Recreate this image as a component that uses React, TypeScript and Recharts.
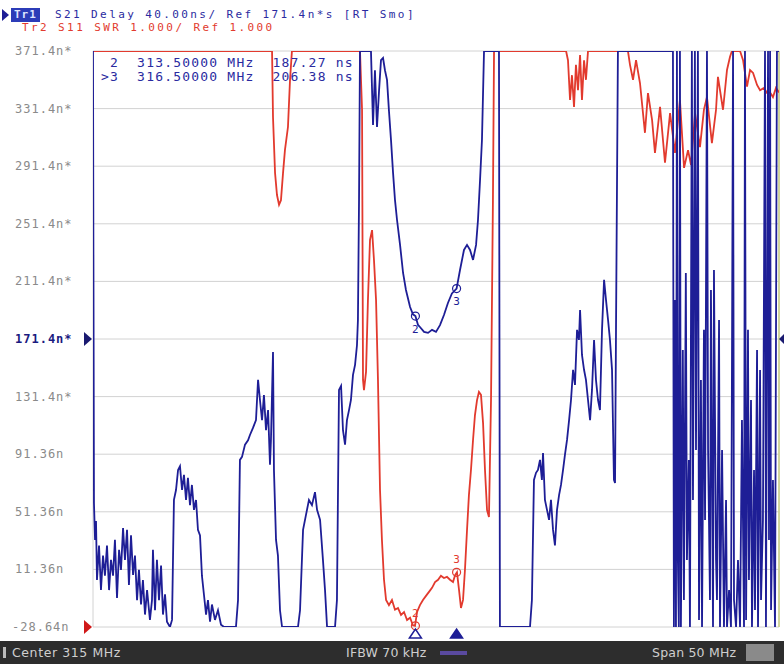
import React from 'react';
import { LineChart, Line, XAxis, YAxis, CartesianGrid, ReferenceDot, ReferenceLine } from 'recharts';

// frequency axis (MHz): center 315, span 50
const freqTicks = [290, 295, 300, 305, 310, 315, 320, 325, 330, 335, 340];

// Tr1 S21 delay axis (ns), 40 ns/div, ref 171.4 ns
const delayTicks = [-28.64, 11.36, 51.36, 91.36, 131.36, 171.36, 211.36, 251.36, 291.36, 331.36, 371.36];
const delayLabels = ['-28.64n', '11.36n', '51.36n', '91.36n', '131.4n*', '171.4n*', '211.4n*', '251.4n*', '291.4n*', '331.4n*', '371.4n*'];

// Tr1: S21 group delay trace
const s21Freq = [
  290.0, 290.07, 290.15, 290.22, 290.29, 290.44, 290.58, 290.73, 290.87, 291.02, 291.17, 291.31, 291.46, 291.6, 291.75,
  291.9, 292.04, 292.19, 292.33, 292.48, 292.62, 292.77, 292.92, 293.06, 293.21, 293.35, 293.5, 293.64, 293.79, 293.94,
  294.15, 294.3, 294.37, 294.52, 294.66, 294.81, 294.96, 295.1, 295.25, 295.39, 295.61, 295.76, 295.9, 296.05, 296.2,
  296.34, 296.49, 296.63, 296.78, 296.92, 297.07, 297.21, 297.36, 297.51, 297.65, 297.8, 297.94, 298.09, 298.24, 298.38,
  298.53, 298.67, 298.89, 299.11, 299.33, 299.55, 300.42, 300.57, 300.71, 300.86, 301.08, 301.3, 301.44, 301.66, 301.88,
  302.03, 302.17, 302.32, 302.46, 302.61, 302.76, 302.9, 302.97, 303.12, 303.19, 303.34, 303.48, 303.63, 303.78, 304.94,
  305.09, 305.31, 305.52, 305.74, 305.96, 306.18, 306.33, 306.55, 306.76, 306.91, 307.06, 307.64, 307.78, 307.93, 308.08,
  308.22, 308.37, 308.51, 308.66, 308.8, 308.95, 309.1, 309.24, 309.31, 309.39, 309.46, 310.26, 310.41, 310.55, 310.7,
  310.85, 310.99, 311.14, 311.28, 311.43, 311.57, 311.72, 311.87, 312.01, 312.16, 312.38, 312.6, 312.81, 313.11, 313.32,
  313.5, 313.69, 313.83, 314.13, 314.42, 314.71, 315.0, 315.29, 315.58, 315.87, 316.16, 316.5, 316.75, 317.04, 317.26,
  317.48, 317.7, 317.92, 318.06, 318.21, 318.35, 318.5, 319.59, 319.66, 321.85, 321.99, 322.14, 322.29, 322.43, 322.58,
  322.72, 322.8, 322.94, 323.09, 323.24, 323.38, 323.53, 323.67, 323.82, 323.97, 324.11, 324.26, 324.4, 324.55, 324.7,
  324.84, 324.99, 325.13, 325.28, 325.42, 325.5, 325.64, 325.79, 325.93, 326.08, 326.23, 326.37, 326.52, 326.66, 326.81,
  326.95, 327.1, 327.25, 327.39, 327.54, 327.68, 327.83, 327.97, 328.05, 328.12, 328.26, 332.2, 332.27, 332.34, 332.41,
  332.49, 332.56, 332.63, 332.7, 332.78, 332.85, 332.99, 333.07, 333.21, 333.29, 333.43, 333.51, 333.65, 333.73, 333.87,
  333.95, 334.09, 334.17, 334.31, 334.39, 334.53, 334.61, 334.75, 334.83, 334.97, 335.04, 335.19, 335.26, 335.41, 335.48,
  335.63, 335.7, 335.85, 335.99, 336.14, 336.21, 336.36, 336.5, 336.57, 336.65, 336.72, 336.87, 337.01, 337.16, 337.3,
  337.45, 337.52, 337.6, 337.74, 337.81, 337.96, 338.03, 338.18, 338.25, 338.4, 338.47, 338.62, 338.69, 338.83, 338.98,
  339.05, 339.2, 339.27, 339.35, 339.42, 339.56, 339.71, 339.85, 340.0,
];
const s21Delay = [
  371.36, 57.5, 31.8, 45, 4, 28, -2.9, 21, 7, 28, -3, 18, 7, 32, -8.5,
  25, 11, 40, 18, 38.8, 0.5, 35, 7.5, 21, -10, 11, -13, 4, -20, -3,
  -23.7, -10, 25, -17, 18, -10, 14, -20, -6, -25, -28.64, -23.7, 59.6, 66.5, 80.4,
  83, 66.5, 77, 59.6, 75, 56, 70, 52.7, 59.6, 38.8, 35, 7, -6.4, -20, -10,
  -25, -13, -23.7, -17, -27, -28.64, -28.64, -10, 87.4, 89.5, 98, 101, 104.7, 109.6, 115,
  143, 129, 115, 132.5, 108, 122, 84, 101, 162.4, 80, 31.8, 21, -17, -28.64, -28.64,
  -17, 38.8, 49, 59.6, 56, 65, 52.7, 45.8, 18, -2.9, -28.64, -28.64, -10, 136, 138.8,
  108, 98, 115, 122, 129, 146.4, 153.4, 167, 184.6, 268, 371.36, 371.36, 320, 358, 318.6,
  344, 365, 366.5, 358, 351.3, 330, 309.6, 286.7, 268, 254, 236.7, 217.2, 205.4, 193.6, 188.5,
  187.27, 181.1, 179.7, 176.3, 175.6, 177.7, 176.3, 181, 188, 196.4, 203, 206.38, 219.3, 233.2, 236.7,
  233.2, 226.3, 236.7, 254, 281.8, 309.6, 371.36, 371.36, -28.64, -28.64, -10, 73.5, 78.4, 80.4, 87.4,
  73.5, 92.2, 59.6, 52.7, 45.8, 59.6, 38.8, 28, 52.7, 63, 70, 80.4, 91, 101.3, 115,
  129, 150, 139.5, 177.7, 170.7, 191.5, 160.3, 150, 143, 129, 115, 136, 170.7, 143, 129,
  122, 177.7, 212.4, 198.5, 184.6, 170.7, 149.9, 73.5, 71.4, 177.7, 371.36, 371.36, 371.36, -28.64, 198.5,
  -28.64, 371.36, 17.9, -28.64, 371.36, -28.64, 163.8, -9.9, 217.2, 17.9, 87.4, -28.64, 371.36, 59.6, 371.36,
  94.3, 371.36, -23.7, 142.9, -28.64, 177.7, 45.7, 371.36, 94.3, -9.9, 205.4, -28.64, 219.3, 17.9, -9.9,
  184.6, -28.64, 94.3, -28.64, 59.6, -28.64, -2.9, -28.64, 147.8, 371.36, -9.9, -28.64, 17.9, -28.64, 115.1,
  -28.64, 371.36, -23.7, 177.7, 4, 129, -28.64, 80.4, -16.8, 163.8, -28.64, 149.9, -9.9, 45.7, 371.36,
  -28.64, 371.36, 31.8, 371.36, -16.8, 73.5, -28.64, 371.36, 371.36,
];

// Tr2: S11 SWR trace (1.000/div, ref 1.000)
const s11Freq = [
  290.0, 302.9, 303.05, 303.12, 303.27, 303.41, 303.56, 303.7, 303.85, 303.99, 304.21, 304.36, 304.5, 309.46, 309.61,
  309.68, 309.75, 309.9, 310.04, 310.19, 310.34, 310.48, 310.63, 310.77, 310.92, 311.06, 311.21, 311.36, 311.57, 311.79,
  312.01, 312.23, 312.45, 312.67, 312.89, 313.11, 313.32, 313.47, 313.62, 313.83, 314.05, 314.27, 314.49, 314.71, 314.93,
  315.15, 315.36, 315.58, 315.8, 316.02, 316.24, 316.39, 316.53, 316.68, 316.82, 316.97, 317.11, 317.26, 317.4, 317.55,
  317.7, 317.84, 317.99, 318.13, 318.28, 318.43, 318.57, 318.72, 318.86, 319.01, 319.15, 319.23, 324.48, 324.62, 324.77,
  324.91, 325.06, 325.2, 325.35, 325.5, 325.64, 325.79, 325.93, 326.08, 328.99, 329.14, 329.36, 329.58, 329.87, 330.23,
  330.45, 330.75, 330.96, 331.33, 331.69, 332.06, 332.42, 332.78, 333.08, 333.37, 333.59, 333.88, 334.24, 334.53, 334.75,
  335.11, 335.41, 335.55, 335.92, 336.21, 336.43, 336.57, 337.16, 337.38, 337.67, 337.89, 338.11, 338.4, 338.62, 338.91,
  339.13, 339.35, 339.56, 339.78, 340.0,
];
const s11Swr = [
  11, 11, 11, 9.85, 8.88, 8.5, 8.33, 8.41, 8.88, 9.28, 9.68, 10.5, 11, 11, 9.98,
  5.29, 5.11, 5.43, 6.68, 7.72, 7.89, 7.37, 6.68, 5.29, 3.38, 2.51, 1.82, 1.47, 1.38, 1.47,
  1.3, 1.33, 1.21, 1.26, 1.12, 1.16, 1.03, 1.02, 1.26, 1.38, 1.47, 1.54, 1.61, 1.68, 1.78,
  1.82, 1.89, 1.85, 1.87, 1.82, 1.78, 1.9, 1.95, 1.64, 1.33, 1.47, 1.99, 2.68, 3.29, 3.73,
  4.25, 4.68, 4.94, 5.08, 5.03, 4.54, 3.73, 3.03, 2.91, 4.94, 8.41, 11, 11, 10.84, 10.15,
  10.58, 10.03, 10.76, 10.32, 10.93, 10.15, 10.84, 10.5, 11, 11, 10.76, 10.5, 10.84, 10.44, 9.58,
  10.27, 9.8, 9.23, 10.03, 9.06, 9.92, 9.23, 10.15, 8.97, 9.28, 9.02, 9.92, 9.33, 9.98, 10.2,
  9.4, 9.98, 10.55, 9.98, 10.67, 10.9, 11, 11, 10.84, 10.38, 10.67, 10.62, 10.41, 10.32, 10.36,
  10.27, 10.28, 10.2, 10.36, 10.28,
];

// markers 2 and 3
const markerFreq = [313.5, 316.5];
const markerDelay = [187.27, 206.38];
const markerSwr = [1.02, 1.95];

const s21Data = s21Freq.map((f, i) => ({ f, v: s21Delay[i] }));
const s11Data = s11Freq.map((f, i) => ({ f, v: s11Swr[i] }));

const MONO = '"DejaVu Sans Mono", monospace';
const NAVY = '#1e1e96';
const RED = '#e23a2e';

const DelayTick = (props: any) => {
  const { y, payload } = props;
  const i = delayTicks.findIndex((t) => Math.abs(t - payload.value) < 0.01);
  const isRef = i === 5;
  const isBottom = i === 0;
  return (
    <g>
      <text
        x={isBottom ? 12 : 15}
        y={y}
        dy={4}
        fontFamily={MONO}
        fontSize={12}
        letterSpacing={1}
        fontWeight={isRef ? 'bold' : 'normal'}
        fill={isRef ? '#1a1a80' : '#8a8a8a'}
      >
        {delayLabels[i]}
      </text>
      {isRef && <path d={`M84,${y - 7} L92,${y} L84,${y + 7} Z`} fill="#1a1a70" />}
      {isBottom && <path d={`M84,${y - 7} L92,${y} L84,${y + 7} Z`} fill="#d01818" />}
    </g>
  );
};

const markerTriangle = (filled: boolean) => (p: any) => (
  <path
    d={`M${p.cx - 6},${p.cy + 11} L${p.cx},${p.cy + 2} L${p.cx + 6},${p.cy + 11} Z`}
    fill={filled ? NAVY : 'none'}
    stroke={NAVY}
    strokeWidth={1.5}
  />
);

const rightRefMarker = (p: any) => (
  <path d={`M${p.cx + 6},${p.cy - 6} L${p.cx},${p.cy} L${p.cx + 6},${p.cy + 6} Z`} fill="#1a1a70" />
);

const textStyle: React.CSSProperties = {
  position: 'absolute',
  fontFamily: MONO,
  fontSize: 13,
  letterSpacing: 1.2,
  whiteSpace: 'pre',
  lineHeight: '12px',
};

const headerStyle: React.CSSProperties = {
  ...textStyle,
  fontSize: 11,
  letterSpacing: 2.4,
  lineHeight: '12px',
};

export default function App() {
  return (
    <div style={{ position: 'absolute', left: 0, top: 0, width: 784, height: 664, background: '#fff', overflow: 'hidden' }}>
      <LineChart width={784} height={664} margin={{ top: 51, right: 5, bottom: 37, left: 0 }}>
        <CartesianGrid yAxisId="delay" stroke="#d2d2d2" strokeWidth={1} />
        <XAxis
          dataKey="f"
          type="number"
          domain={[290, 340]}
          ticks={freqTicks}
          allowDataOverflow
          tick={false}
          tickLine={false}
          axisLine={false}
          height={0}
        />
        <YAxis
          yAxisId="delay"
          type="number"
          domain={[-28.64, 371.36]}
          ticks={delayTicks}
          allowDataOverflow
          width={93}
          tick={<DelayTick />}
          tickLine={false}
          axisLine={false}
          interval={0}
        />
        <YAxis yAxisId="swr" orientation="right" type="number" domain={[1, 11]} allowDataOverflow hide />
        <ReferenceLine yAxisId="delay" x={340} stroke="#c9cf86" strokeWidth={1.5} />
        <Line
          yAxisId="swr"
          data={s11Data}
          dataKey="v"
          type="linear"
          stroke={RED}
          strokeWidth={1.8}
          dot={false}
          isAnimationActive={false}
        />
        <Line
          yAxisId="delay"
          data={s21Data}
          dataKey="v"
          type="linear"
          stroke={NAVY}
          strokeWidth={1.8}
          dot={false}
          isAnimationActive={false}
        />
        {markerFreq.map((f, i) => (
          <ReferenceDot
            key={`md-${i}`}
            yAxisId="delay"
            x={f}
            y={markerDelay[i]}
            r={4}
            fill="none"
            stroke={NAVY}
            strokeWidth={1.2}
            label={{ value: String(i + 2), position: 'bottom', fill: NAVY, fontSize: 11, fontFamily: MONO }}
          />
        ))}
        {markerFreq.map((f, i) => (
          <ReferenceDot
            key={`ms-${i}`}
            yAxisId="swr"
            x={f}
            y={markerSwr[i]}
            r={4}
            fill="none"
            stroke={RED}
            strokeWidth={1.2}
            label={{ value: String(i + 2), position: 'top', fill: RED, fontSize: 11, fontFamily: MONO }}
          />
        ))}
        {markerFreq.map((f, i) => (
          <ReferenceDot
            key={`mt-${i}`}
            yAxisId="delay"
            x={f}
            y={-28.64}
            ifOverflow="visible"
            shape={markerTriangle(i === 1)}
          />
        ))}
        <ReferenceDot yAxisId="delay" x={340} y={171.36} ifOverflow="visible" shape={rightRefMarker} />
      </LineChart>

      {/* trace header */}
      <div style={{ position: 'absolute', left: 2, top: 9, width: 0, height: 0, borderTop: '6px solid transparent', borderBottom: '6px solid transparent', borderLeft: `7px solid ${NAVY}` }} />
      <div style={{ ...headerStyle, left: 11, top: 8, background: '#2c3cb8', color: '#dfe6ff', padding: '1px 3px', letterSpacing: 1, fontWeight: 'bold' }}>Tr1</div>
      <div style={{ ...headerStyle, left: 55, top: 9, color: '#2a2aa0' }}>S21 Delay 40.00ns/ Ref 171.4n*s [RT Smo]</div>
      <div style={{ ...headerStyle, left: 22, top: 22, color: RED }}>Tr2 S11 SWR 1.000/ Ref 1.000</div>

      {/* marker table */}
      <div style={{ ...textStyle, left: 101, top: 57, color: '#2a2aa0' }}>{' 2  313.50000 MHz  187.27 ns'}</div>
      <div style={{ ...textStyle, left: 101, top: 71, color: '#2a2aa0' }}>{'>3  316.50000 MHz  206.38 ns'}</div>

      {/* status bar */}
      <div style={{ position: 'absolute', left: 0, top: 641, width: 784, height: 23, background: '#2d2d2d' }}>
        <div style={{ position: 'absolute', left: 3, top: 6, width: 3, height: 11, background: '#bbb' }} />
        <div style={{ position: 'absolute', left: 12, top: 4, color: '#cfcfcf', fontFamily: '"DejaVu Sans", sans-serif', fontSize: 12.5, letterSpacing: 0.6 }}>Center 315 MHz</div>
        <div style={{ position: 'absolute', left: 346, top: 4, color: '#cfcfcf', fontFamily: '"DejaVu Sans", sans-serif', fontSize: 12.5, letterSpacing: 0.2 }}>IFBW 70 kHz</div>
        <div style={{ position: 'absolute', left: 440, top: 10, width: 27, height: 4, background: '#5a4aa0' }} />
        <div style={{ position: 'absolute', left: 652, top: 4, color: '#cfcfcf', fontFamily: '"DejaVu Sans", sans-serif', fontSize: 12.5, letterSpacing: 0.2 }}>Span 50 MHz</div>
        <div style={{ position: 'absolute', left: 746, top: 3, width: 28, height: 17, background: '#8a8a8a' }} />
      </div>
    </div>
  );
}
